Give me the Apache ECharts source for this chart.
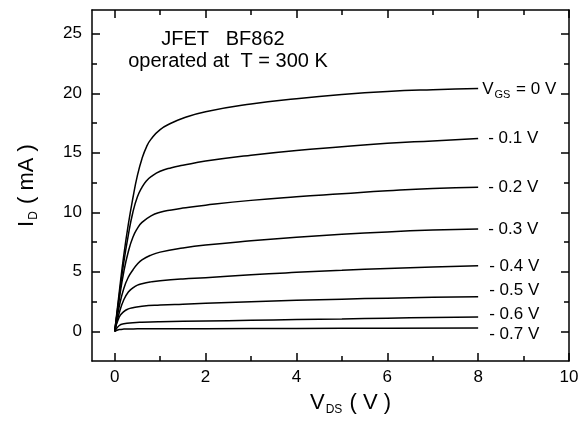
<!DOCTYPE html>
<html>
<head>
<meta charset="utf-8">
<script src="https://cdn.jsdelivr.net/npm/echarts@6/dist/echarts.min.js"></script>
<style>
  html, body { margin: 0; padding: 0; background: #fff; }
  #chart { width: 588px; height: 421px; }
</style>
</head>
<body>
<div id="chart"></div>
<script>
// V_DS (V) / I_D (mA), one pair of arrays per gate voltage
const vgsLabels = ['0', '- 0.1 V', '- 0.2 V', '- 0.3 V', '- 0.4 V', '- 0.5 V', '- 0.6 V', '- 0.7 V'];

const vds0 = [0, 0.1, 0.2, 0.3, 0.4, 0.5, 0.6, 0.7, 0.8, 1.0, 1.25, 1.5, 2, 3, 4, 5, 6, 7, 8];
const id0 = [0, 3.3, 6.4, 9.0, 11.2, 13.1, 14.5, 15.5, 16.15, 16.95, 17.5, 17.9, 18.45, 19.1, 19.55, 19.9, 20.15, 20.3, 20.4];

const vds1 = [0, 0.1, 0.2, 0.3, 0.4, 0.5, 0.6, 0.7, 0.8, 1.0, 1.25, 1.5, 2, 3, 4, 5, 6, 7, 8];
const id1 = [0, 3.0, 5.8, 8.1, 10.0, 11.3, 12.1, 12.65, 13.0, 13.45, 13.75, 13.95, 14.3, 14.8, 15.2, 15.5, 15.8, 16.0, 16.2];

const vds2 = [0, 0.1, 0.2, 0.3, 0.4, 0.5, 0.6, 0.8, 1.0, 1.25, 1.5, 2, 3, 4, 5, 6, 7, 8];
const id2 = [0, 2.7, 5.0, 6.7, 7.9, 8.65, 9.15, 9.7, 10.0, 10.2, 10.35, 10.6, 11.0, 11.3, 11.55, 11.8, 12.0, 12.1];

const vds3 = [0, 0.1, 0.2, 0.3, 0.4, 0.5, 0.6, 0.8, 1.0, 1.5, 2, 3, 4, 5, 6, 7, 8];
const id3 = [0, 2.1, 3.6, 4.55, 5.15, 5.65, 6.0, 6.4, 6.65, 7.0, 7.25, 7.6, 7.9, 8.15, 8.35, 8.5, 8.6];

const vds4 = [0, 0.1, 0.2, 0.3, 0.4, 0.5, 0.6, 0.8, 1.0, 1.5, 2, 3, 4, 5, 6, 7, 8];
const id4 = [0, 1.55, 2.65, 3.3, 3.65, 3.88, 4.0, 4.15, 4.25, 4.4, 4.5, 4.75, 4.95, 5.12, 5.28, 5.4, 5.5];

const vds5 = [0, 0.1, 0.2, 0.3, 0.4, 0.6, 1.0, 1.5, 2, 3, 4, 5, 6, 7, 8];
const id5 = [0, 1.2, 1.65, 1.88, 1.98, 2.1, 2.2, 2.28, 2.35, 2.48, 2.6, 2.7, 2.78, 2.85, 2.9];

const vds6 = [0, 0.1, 0.2, 0.4, 0.6, 1.0, 2, 3, 4, 5, 6, 7, 8];
const id6 = [0, 0.48, 0.63, 0.72, 0.76, 0.8, 0.86, 0.92, 0.98, 1.03, 1.1, 1.15, 1.2];

const vds7 = [0, 0.1, 0.2, 0.5, 1, 2, 4, 6, 8];
const id7 = [0, 0.14, 0.18, 0.2, 0.21, 0.22, 0.24, 0.26, 0.28];

const xMajor = [0, 2, 4, 6, 8, 10];
const xMinor = [1, 3, 5, 7, 9];
const yMajor = [0, 5, 10, 15, 20, 25];
const yMinor = [2.5, 7.5, 12.5, 17.5, 22.5];

const vdsList = [vds0, vds1, vds2, vds3, vds4, vds5, vds6, vds7];
const idList = [id0, id1, id2, id3, id4, id5, id6, id7];
// where each curve label sits relative to the curve end
const labelOffsets = [[4, 1], [10, 0], [10, 0], [10, 0], [11, 0], [11, -6], [11, -3], [11, 6]];

const FONT = '"Liberation Sans", Arial, Helvetica, sans-serif';

const chart = echarts.init(document.getElementById('chart'));

const lineStyleAxis = { color: '#000', width: 1.5 };

function makeXAxis(position, ticks, len, showLine, extra) {
  return Object.assign({
    type: 'value',
    position: position,
    min: -0.5,
    max: 10,
    splitLine: { show: false },
    axisLine: { show: showLine, onZero: false, lineStyle: lineStyleAxis },
    axisTick: { inside: true, length: len, customValues: ticks, lineStyle: { color: '#000', width: 1.5 } },
    axisLabel: { show: false }
  }, extra || {});
}

function makeYAxis(position, ticks, len, showLine, extra) {
  return Object.assign({
    type: 'value',
    position: position,
    min: -2.5,
    max: 27,
    splitLine: { show: false },
    axisLine: { show: showLine, onZero: false, lineStyle: lineStyleAxis },
    axisTick: { inside: true, length: len, customValues: ticks, lineStyle: { color: '#000', width: 1.5 } },
    axisLabel: { show: false }
  }, extra || {});
}

const series = idList.map((ids, i) => ({
  type: 'line',
  xAxisIndex: 0,
  yAxisIndex: 0,
  data: vdsList[i].map((v, k) => [v, ids[k]]),
  showSymbol: false,
  smooth: 0.5,
  lineStyle: { color: '#000', width: 1.5 },
  animation: false,
  silent: true,
  endLabel: {
    show: true,
    distance: 0,
    offset: labelOffsets[i],
    fontFamily: FONT,
    fontSize: 17,
    color: '#000',
    formatter: i === 0 ? '{a|V}{s|GS}{a| = 0 V}' : vgsLabels[i],
    rich: {
      a: { fontFamily: FONT, fontSize: 17, lineHeight: 17, verticalAlign: 'top', color: '#000' },
      s: { fontFamily: FONT, fontSize: 11, lineHeight: 11, padding: [8, 1, 0, 1], verticalAlign: 'top', color: '#000' }
    }
  }
}));

chart.setOption({
  backgroundColor: '#fff',
  animation: false,
  grid: { left: 92, right: 19, top: 10, bottom: 60 },
  graphic: [
    {
      type: 'text', x: 223, y: 49,
      style: { text: 'JFET   BF862', font: '20px ' + FONT, fill: '#000', align: 'center', verticalAlign: 'bottom' }
    },
    {
      type: 'text', x: 228, y: 71,
      style: { text: 'operated at  T = 300 K', font: '20px ' + FONT, fill: '#000', align: 'center', verticalAlign: 'bottom' }
    }
  ],
  xAxis: [
    makeXAxis('bottom', xMajor, 8, true, {
      axisLabel: { show: true, customValues: xMajor, margin: 8, fontFamily: FONT, fontSize: 17, color: '#000' },
      name: '{a|V}{s|DS}{a| ( V )}',
      nameLocation: 'middle',
      nameGap: 31,
      nameTextStyle: {
        padding: [0, 0, 0, 40],
        rich: {
          a: { fontFamily: FONT, fontSize: 22, lineHeight: 22, verticalAlign: 'top', color: '#000' },
          s: { fontFamily: FONT, fontSize: 12, lineHeight: 12, padding: [12, 1, 0, 1], verticalAlign: 'top', color: '#000' }
        }
      }
    }),
    makeXAxis('bottom', xMinor, 5, false),
    makeXAxis('top', xMajor, 8, true),
    makeXAxis('top', xMinor, 5, false)
  ],
  yAxis: [
    makeYAxis('left', yMajor, 8, true, {
      axisLabel: { show: true, customValues: yMajor, margin: 10, fontFamily: FONT, fontSize: 17, color: '#000' },
      name: '{a|I}{s|D}{a| ( mA )}',
      nameLocation: 'middle',
      nameRotate: 90,
      nameGap: 54,
      nameTextStyle: {
        rich: {
          a: { fontFamily: FONT, fontSize: 22, lineHeight: 22, verticalAlign: 'top', color: '#000' },
          s: { fontFamily: FONT, fontSize: 12, lineHeight: 12, padding: [12, 1, 0, 1], verticalAlign: 'top', color: '#000' }
        }
      }
    }),
    makeYAxis('left', yMinor, 5, false),
    makeYAxis('right', yMajor, 8, true),
    makeYAxis('right', yMinor, 5, false)
  ],
  series: series
});
</script>
</body>
</html>
